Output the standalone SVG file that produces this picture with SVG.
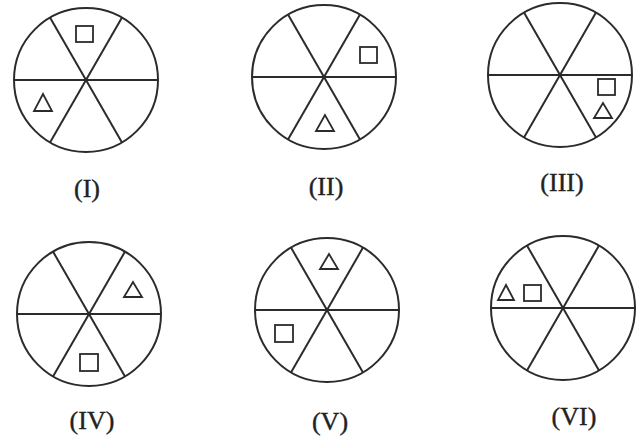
<svg xmlns="http://www.w3.org/2000/svg" width="642" height="436" viewBox="0 0 642 436">
<style>
.w{fill:none;stroke:#2b2b2b;stroke-width:2}
.s{fill:none;stroke:#2b2b2b;stroke-width:1.8}
.t{font-family:"Liberation Serif","Times New Roman",serif;font-size:26px;fill:#222;stroke:#222;stroke-width:0.4;text-anchor:middle}
</style>
<defs>
<g id="wheel">
<circle cx="0" cy="0" r="72" class="w"/>
<line x1="-72" y1="0" x2="72" y2="0" class="w"/>
<line x1="-36" y1="-62.4" x2="36" y2="62.4" class="w"/>
<line x1="36" y1="-62.4" x2="-36" y2="62.4" class="w"/>
</g>
</defs>
<rect width="642" height="436" fill="#ffffff"/>
<g id="fig1">
<use href="#wheel" transform="translate(86,80)"/>
<rect x="76" y="26" width="17" height="16" class="s"/>
<polygon points="43,94 34,111 52,111" class="s"/>
<text x="87" y="197" class="t">(I)</text>
</g>
<g id="fig2">
<use href="#wheel" transform="translate(324,77)"/>
<rect x="360" y="47" width="17" height="16" class="s"/>
<polygon points="325,115 316,131 334,131" class="s"/>
<text x="326" y="195" class="t">(II)</text>
</g>
<g id="fig3">
<use href="#wheel" transform="translate(560,75)"/>
<rect x="598" y="79" width="17" height="16" class="s"/>
<polygon points="603,103 594,118 612,118" class="s"/>
<text x="562" y="191" class="t">(III)</text>
</g>
<g id="fig4">
<use href="#wheel" transform="translate(89,314)"/>
<polygon points="133,282 124,297 142,297" class="s"/>
<rect x="80" y="354" width="18" height="17" class="s"/>
<text x="92" y="429" class="t">(IV)</text>
</g>
<g id="fig5">
<use href="#wheel" transform="translate(327,310)"/>
<polygon points="329,254 320,269 338,269" class="s"/>
<rect x="275" y="325" width="18" height="17" class="s"/>
<text x="330" y="430" class="t">(V)</text>
</g>
<g id="fig6">
<use href="#wheel" transform="translate(563,308)"/>
<polygon points="506,285 498,300 514,300" class="s"/>
<rect x="524" y="285" width="17" height="16" class="s"/>
<text x="574" y="425" class="t">(VI)</text>
</g>
</svg>
